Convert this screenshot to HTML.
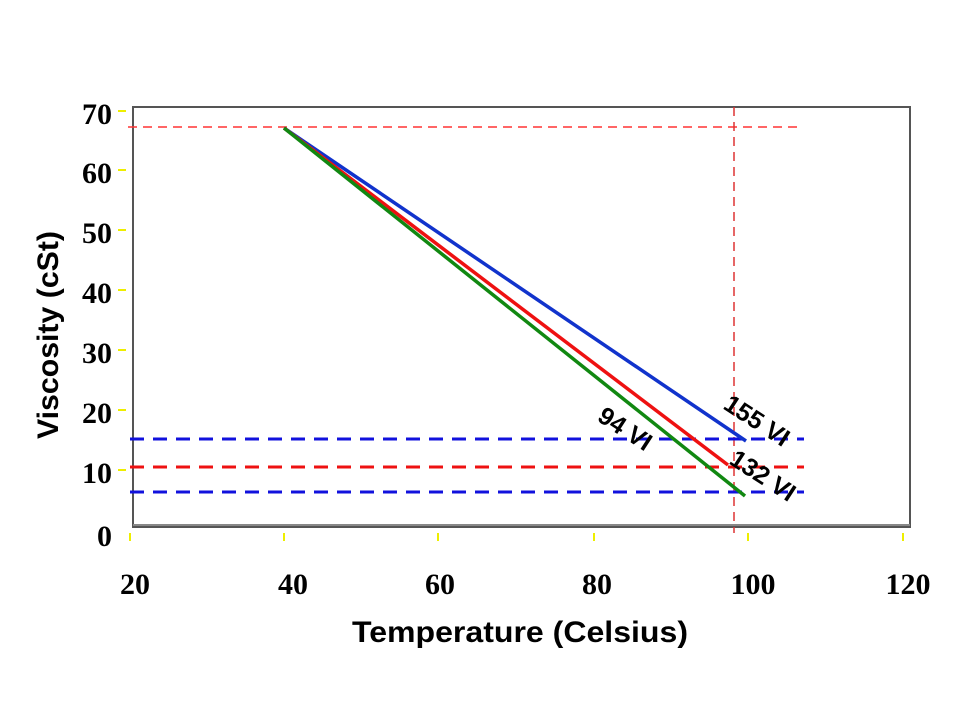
<!DOCTYPE html>
<html><head><style>body{margin:0;background:#fff}</style></head><body>
<svg width="960" height="720" xmlns="http://www.w3.org/2000/svg">
<rect width="960" height="720" fill="#fff"/>
<rect x="133" y="107" width="777" height="420" fill="none" stroke="#555" stroke-width="2"/>
<line x1="133" y1="525" x2="910" y2="525" stroke="#888" stroke-width="2"/>
<g stroke="#ee0" stroke-width="2">
<line x1="118" y1="111" x2="126" y2="111"/><line x1="118" y1="170" x2="126" y2="170"/><line x1="118" y1="230" x2="126" y2="230"/><line x1="118" y1="290" x2="126" y2="290"/><line x1="118" y1="350" x2="126" y2="350"/><line x1="118" y1="410" x2="126" y2="410"/><line x1="118" y1="470" x2="126" y2="470"/>
<line x1="130" y1="533" x2="130" y2="541"/><line x1="284" y1="533" x2="284" y2="541"/><line x1="438" y1="533" x2="438" y2="541"/><line x1="594" y1="533" x2="594" y2="541"/><line x1="748" y1="533" x2="748" y2="541"/><line x1="903" y1="533" x2="903" y2="541"/>
</g>
<g stroke-dasharray="14,9" stroke-width="2">
<line x1="128" y1="127" x2="800" y2="127" stroke="#f33" stroke-width="1.5" stroke-dasharray="9,6"/>
<line x1="734" y1="107" x2="734" y2="533" stroke="#d33" stroke-width="1.5" stroke-dasharray="9,6"/>
<line x1="130" y1="439" x2="804" y2="439" stroke="#11d" stroke-width="3"/>
<line x1="130" y1="467" x2="804" y2="467" stroke="#e11" stroke-width="3"/>
<line x1="130" y1="492" x2="804" y2="492" stroke="#11d" stroke-width="3"/>
</g>
<line x1="284" y1="128" x2="746" y2="441" stroke="#1133cc" stroke-width="3.5"/>
<line x1="284" y1="128" x2="728" y2="465" stroke="#ee1111" stroke-width="3.5"/>
<line x1="284" y1="128" x2="745" y2="496" stroke="#118811" stroke-width="3.5"/>
<g font-family="Liberation Sans, sans-serif" font-size="25" font-weight="bold" fill="#000">
<text transform="translate(722,408) rotate(33)">155 VI</text>
<text transform="translate(728,463) rotate(33)">132 VI</text>
<text transform="translate(596,420) rotate(33)">94 VI</text>
</g>
<g font-family="Liberation Serif, serif" font-weight="bold" font-size="30" fill="#000" text-anchor="end">
<text x="112" y="124">70</text><text x="112" y="183">60</text><text x="112" y="243">50</text><text x="112" y="303">40</text><text x="112" y="363">30</text><text x="112" y="423">20</text><text x="112" y="483">10</text><text x="112" y="546">0</text>
</g>
<g font-family="Liberation Serif, serif" font-weight="bold" font-size="30" fill="#000" text-anchor="middle">
<text x="135" y="594">20</text><text x="293" y="594">40</text><text x="440" y="594">60</text><text x="597" y="594">80</text><text x="753" y="594">100</text><text x="908" y="594">120</text>
</g>
<text x="520" y="642" text-anchor="middle" font-family="Liberation Sans, sans-serif" font-weight="bold" font-size="30" textLength="336" lengthAdjust="spacingAndGlyphs">Temperature (Celsius)</text>
<text transform="translate(58,335) rotate(-90)" text-anchor="middle" font-family="Liberation Sans, sans-serif" font-weight="bold" font-size="30" textLength="208" lengthAdjust="spacingAndGlyphs">Viscosity (cSt)</text>
</svg>
</body></html>
